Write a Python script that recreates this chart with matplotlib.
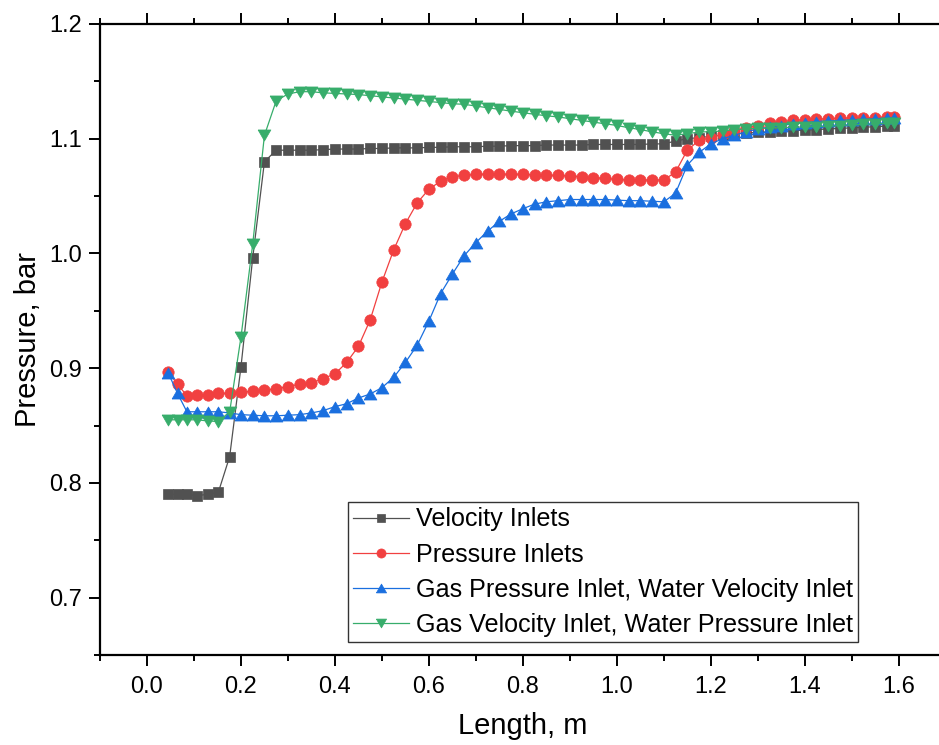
import matplotlib
matplotlib.use("Agg")
import matplotlib.pyplot as plt
from matplotlib.ticker import MultipleLocator, FormatStrFormatter

plt.rcParams['font.family'] = ['Liberation Sans', 'DejaVu Sans']

# Axial positions along the pipe (m)
length = [0.045, 0.065, 0.085, 0.106, 0.130, 0.152, 0.176, 0.200, 0.225, 0.250,
          0.275, 0.300, 0.325, 0.350, 0.375, 0.400, 0.425, 0.450, 0.475, 0.500,
          0.525, 0.550, 0.575, 0.600, 0.625, 0.650, 0.675, 0.700, 0.725, 0.750,
          0.775, 0.800, 0.825, 0.850, 0.875, 0.900, 0.925, 0.950, 0.975, 1.000,
          1.025, 1.050, 1.075, 1.100, 1.125, 1.150, 1.175, 1.200, 1.225, 1.250,
          1.275, 1.300, 1.325, 1.350, 1.375, 1.400, 1.425, 1.450, 1.475, 1.500,
          1.525, 1.550, 1.575, 1.590]

# Pressure (bar) for each inlet configuration
velocity_inlets = [0.790, 0.790, 0.790, 0.789, 0.790, 0.792, 0.823, 0.901, 0.996, 1.080,
                   1.090, 1.090, 1.090, 1.090, 1.0905, 1.091, 1.091, 1.091, 1.0915, 1.0915,
                   1.092, 1.092, 1.092, 1.0925, 1.0925, 1.093, 1.093, 1.093, 1.0935, 1.0935,
                   1.094, 1.094, 1.094, 1.0945, 1.0945, 1.0945, 1.0945, 1.095, 1.095, 1.095,
                   1.095, 1.095, 1.0955, 1.0955, 1.098, 1.100, 1.101, 1.102, 1.103, 1.104,
                   1.105, 1.1055, 1.106, 1.1065, 1.107, 1.1075, 1.108, 1.1085, 1.109, 1.1095,
                   1.110, 1.1105, 1.111, 1.1115]

pressure_inlets = [0.897, 0.886, 0.876, 0.877, 0.877, 0.878, 0.878, 0.879, 0.880, 0.881,
                   0.882, 0.884, 0.886, 0.887, 0.891, 0.895, 0.905, 0.919, 0.942, 0.975,
                   1.003, 1.026, 1.044, 1.056, 1.063, 1.067, 1.068, 1.069, 1.069, 1.069,
                   1.069, 1.069, 1.0685, 1.068, 1.068, 1.0675, 1.067, 1.066, 1.0655, 1.0645,
                   1.064, 1.064, 1.064, 1.064, 1.071, 1.090, 1.0985, 1.101, 1.104, 1.107,
                   1.1095, 1.1115, 1.1135, 1.115, 1.116, 1.1165, 1.117, 1.1175, 1.118, 1.118,
                   1.1185, 1.1185, 1.119, 1.119]

gas_p_water_v = [0.896, 0.878, 0.862, 0.862, 0.862, 0.862, 0.861, 0.8595, 0.859, 0.8585,
                 0.8585, 0.859, 0.8595, 0.861, 0.863, 0.8665, 0.869, 0.874, 0.8775, 0.883,
                 0.892, 0.905, 0.920, 0.941, 0.965, 0.982, 0.998, 1.0095, 1.0195, 1.028,
                 1.0345, 1.039, 1.043, 1.045, 1.046, 1.047, 1.047, 1.047, 1.047, 1.0465,
                 1.046, 1.046, 1.0455, 1.045, 1.0525, 1.077, 1.088, 1.0955, 1.100, 1.103,
                 1.106, 1.1085, 1.110, 1.1115, 1.113, 1.114, 1.115, 1.1155, 1.116, 1.1165,
                 1.117, 1.1175, 1.118, 1.1185]

gas_v_water_p = [0.855, 0.855, 0.855, 0.855, 0.854, 0.8535, 0.862, 0.927, 1.008, 1.103,
                 1.133, 1.139, 1.141, 1.141, 1.140, 1.1395, 1.139, 1.1385, 1.1375, 1.1365,
                 1.1355, 1.1345, 1.1335, 1.1325, 1.1315, 1.1305, 1.130, 1.1285, 1.127, 1.1256,
                 1.124, 1.1227, 1.1213, 1.120, 1.119, 1.1175, 1.116, 1.1145, 1.113, 1.1116,
                 1.1096, 1.108, 1.106, 1.1044, 1.103, 1.1044, 1.1058, 1.1062, 1.1067, 1.108,
                 1.1085, 1.109, 1.1093, 1.1096, 1.110, 1.1103, 1.1106, 1.111, 1.1115, 1.112,
                 1.1125, 1.113, 1.1135, 1.114]

labels = ["Velocity Inlets",
          "Pressure Inlets",
          "Gas Pressure Inlet, Water Velocity Inlet",
          "Gas Velocity Inlet, Water Pressure Inlet"]

colors = ['#515151', '#F14040', '#1A6FDF', '#37AD6B']

# equilateral triangles (up / down), centred on their bounding box
tri_up = [(-1, -0.866), (1, -0.866), (0, 0.866), (-1, -0.866)]
tri_down = [(-1, 0.866), (1, 0.866), (0, -0.866), (-1, 0.866)]
markers = ['s', 'o', tri_up, tri_down]
msizes = [7.2, 8.2, 9.2, 9.2]

fig = plt.figure(figsize=(9.39, 7.45), dpi=100)
ax = fig.add_axes([100 / 939, 90 / 745, 845.7 / 939, 631 / 745])

series = [velocity_inlets, pressure_inlets, gas_p_water_v, gas_v_water_p]
for ys, lab, c, m, ms in zip(series, labels, colors, markers, msizes):
    ax.plot(length, ys, color=c, lw=0.9, marker=m, markersize=ms,
            markerfacecolor=c, markeredgecolor=c, markeredgewidth=0.5, label=lab)

ax.set_xlim(-0.1, 1.7)
ax.set_ylim(0.65, 1.2)

ax.xaxis.set_major_locator(MultipleLocator(0.2))
ax.xaxis.set_minor_locator(MultipleLocator(0.1))
ax.yaxis.set_major_locator(MultipleLocator(0.1))
ax.yaxis.set_minor_locator(MultipleLocator(0.05))
ax.xaxis.set_major_formatter(FormatStrFormatter('%.1f'))
ax.yaxis.set_major_formatter(FormatStrFormatter('%.1f'))

for s in ax.spines.values():
    s.set_linewidth(1.6)

ax.tick_params(which='both', direction='out', top=True, right=True, width=1.4,
               labelsize=17, labeltop=False, labelright=False)
ax.tick_params(which='major', length=8)
ax.tick_params(which='minor', length=4.2)
ax.tick_params(axis='x', which='major', pad=7)
ax.tick_params(axis='y', which='major', pad=5)

ax.set_xlabel("Length, m", fontsize=21)
ax.set_ylabel("Pressure, bar", fontsize=21)
ax.xaxis.set_label_coords((522.5 - 100) / 845.7, (655 - 712) / 631)
ax.yaxis.set_label_coords((42 - 100) / 845.7, 0.5)

leg = ax.legend(loc='lower right', bbox_to_anchor=((858.3 - 100) / 845.7, (655 - 641.7) / 631),
                borderaxespad=0, fontsize=18.1, frameon=True, fancybox=False, shadow=False,
                handlelength=2.2, handletextpad=0.3, labelspacing=0.44, borderpad=0.2,
                markerscale=0.8)
leg.get_frame().set_edgecolor('#333333')
leg.get_frame().set_linewidth(1.0)
leg.get_frame().set_alpha(1)

fig.savefig("out.png", dpi=100)
